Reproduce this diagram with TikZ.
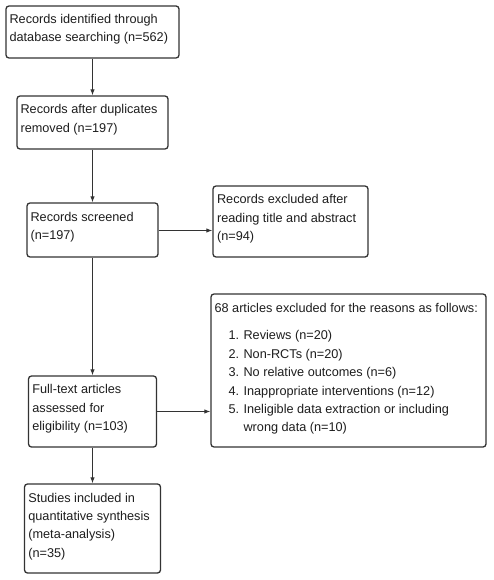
\documentclass[tikz,border=0pt]{standalone}
\usepackage{fontspec}
\setmainfont{Liberation Sans}
\usetikzlibrary{arrows.meta,calc}
\definecolor{edge}{HTML}{333333}
\definecolor{ink}{HTML}{1E1E1E}
\newcommand{\boxlines}[1]{\vtop{\baselineskip=18.4pt\lineskiplimit=-20pt #1}}
\newcommand{\itm}[2]{\hbox{\hspace*{14pt}\hbox to 15pt{#1\hfil}#2}}
\begin{document}
\begin{tikzpicture}[x=1pt,y=-1pt,
  flowbox/.style={draw=edge,line width=1.3pt,rounded corners=3pt,inner sep=0pt},
  lbl/.style={anchor=base west,inner sep=0pt,text=ink,font=\fontsize{12.7pt}{18.4pt}\selectfont},
  conn/.style={draw=edge,line width=1.1pt,-{Latex[length=6pt,width=4.5pt]}}]
\useasboundingbox (0,0) rectangle (493,580);
\fill[white] (0,0) rectangle (493,580);
\node[flowbox,minimum width=173pt,minimum height=52pt] (b1) at (92.5,32) {};
\node[flowbox,minimum width=151pt,minimum height=53pt] (b2) at (92.5,122.5) {};
\node[flowbox,minimum width=131pt,minimum height=54pt] (b3) at (92.5,230) {};
\node[flowbox,minimum width=155pt,minimum height=71pt] (b4) at (290.5,221.5) {};
\node[flowbox,minimum width=275pt,minimum height=153pt] (b5) at (348.5,370.5) {};
\node[flowbox,minimum width=128pt,minimum height=71pt] (b6) at (92.5,411.5) {};
\node[flowbox,minimum width=136pt,minimum height=89pt] (b7) at (92.5,528.5) {};

\node[lbl] (t1) at ($(b1.north west)+(4,18)$) {\boxlines{\hbox{Records identified through}\hbox{database searching (n=562)}}};
\node[lbl] (t2) at ($(b2.north west)+(4,18.5)$) {\boxlines{\hbox{Records after duplicates}\hbox{removed (n=197)}}};
\node[lbl] (t3) at ($(b3.north west)+(4,19)$) {\boxlines{\hbox{Records screened}\hbox{(n=197)}}};
\node[lbl] (t4) at ($(b4.north west)+(4.5,18.5)$) {\boxlines{\hbox{Records excluded after}\hbox{reading title and abstract}\hbox{(n=94)}}};
\node[lbl] (t5) at ($(b5.north west)+(4,19.5)$) {68 articles excluded for the reasons as follows:};
\node[lbl] (t5l) at ($(b5.north west)+(4,46.5)$) {\boxlines{\itm{1.}{Reviews (n=20)}\itm{2.}{Non-RCTs (n=20)}\itm{3.}{No relative outcomes (n=6)}\itm{4.}{Inappropriate interventions (n=12)}\itm{5.}{Ineligible data extraction or including}\itm{}{wrong data (n=10)}}};
\node[lbl] (t6) at ($(b6.north west)+(4.3,18.5)$) {\boxlines{\hbox{Full-text articles}\hbox{assessed for}\hbox{eligibility (n=103)}}};
\node[lbl] (t7) at ($(b7.north west)+(4.3,18.8)$) {\boxlines{\hbox{Studies included in}\hbox{quantitative synthesis}\hbox{(meta-analysis)}\hbox{(n=35)}}};

\draw[conn] (b1.south) -- (b2.north);
\draw[conn] (b2.south) -- (b3.north);
\draw[conn] (b3.south) -- (b6.north);
\draw[conn] (b6.south) -- (b7.north);
\draw[conn] ($(b3.east)+(0,0.5)$) -- ($(b3.east -| b4.west)+(0,0.5)$);
\draw[conn] (b6.east) -- (b6.east -| b5.west);
\end{tikzpicture}
\end{document}
